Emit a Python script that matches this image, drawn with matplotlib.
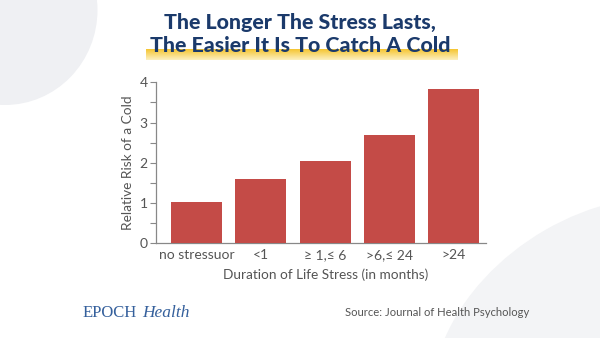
import matplotlib
matplotlib.use("Agg")
import matplotlib.pyplot as plt
import numpy as np
from matplotlib.patches import Ellipse
from matplotlib.colors import LinearSegmentedColormap

categories = ["no stressuor", "<1", "\u2265 1,\u2264 6", ">6,\u2264 24", ">24"]
values = [1.02, 1.61, 2.05, 2.68, 3.84]
yticks = [0, 1, 2, 3, 4]
title_lines = ["The Longer The Stress Lasts,", "The Easier It Is To Catch A Cold"]
xlabel = "Duration of Life Stress (in months)"
ylabel = "Relative Risk of a Cold"
source = "Source: Journal of Health Psychology"

FONT = ["Lato", "DejaVu Sans"]
GRAY = "#555555"
NAVY = "#1b3a6b"

fig = plt.figure(figsize=(6, 3.38), dpi=100)
fig.patch.set_facecolor("white")

# background shapes
bg = fig.add_axes([0, 0, 1, 1], zorder=-10)
bg.set_xlim(0, 600)
bg.set_ylim(338, 0)
bg.axis("off")
bg.add_patch(Ellipse((5, 10), 185, 190, angle=0, color="#eff0f3", lw=0))
bg.add_patch(Ellipse((620, 360), 400, 300, angle=-30, color="#f3f4f6", lw=0))

# yellow gradient highlight under title line 2
grad = np.linspace(0, 1, 50).reshape(-1, 1)
cmap = LinearSegmentedColormap.from_list("hl", ["#fdf0c0", "#f5c531"])
bg.imshow(grad, extent=(146, 458, 49, 60), cmap=cmap, aspect="auto", zorder=1)

ax = fig.add_axes([0.26, 0.28, 0.55, 0.4765])
x = np.arange(len(categories))
ax.bar(x, values, width=0.79, color="#c44b47", zorder=3)
ax.set_xlim(-0.63, 4.5)
ax.set_ylim(0, 4)
ax.set_yticks(yticks)
ax.set_yticks(np.arange(0.5, 4, 1), minor=True)
ax.set_xticks(x)
ax.set_xticklabels(categories, fontfamily=FONT, fontsize=10, color=GRAY)
for lab in ax.get_yticklabels():
    lab.set_fontfamily(FONT)
    lab.set_fontsize(10)
    lab.set_color(GRAY)
ax.tick_params(axis="y", which="both", length=4, color="#888888", width=0.8, pad=2)
ax.tick_params(axis="x", length=0, pad=4)
for s in ["top", "right"]:
    ax.spines[s].set_visible(False)
for s in ["left", "bottom"]:
    ax.spines[s].set_color("#888888")
    ax.spines[s].set_linewidth(0.9)
ax.patch.set_alpha(0)
ax.set_xlabel(xlabel, fontfamily=FONT, fontsize=9.8, color=GRAY)
ax.xaxis.set_label_coords((326 - 156) / 330, -0.155)
ax.set_ylabel(ylabel, fontfamily=FONT, fontsize=9.8, color=GRAY, labelpad=4)

# titles
TFONT = ["Lato", "DejaVu Sans"]
fig.text(0.5, 1 - 22 / 338, title_lines[0], ha="center", va="center",
         fontfamily=TFONT, fontweight="black", fontsize=15.4, color=NAVY)
fig.text(0.5, 1 - 45 / 338, title_lines[1], ha="center", va="center",
         fontfamily=TFONT, fontweight="black", fontsize=15.4, color=NAVY, zorder=5)

# footer
fig.text(83 / 600, 1 - 313 / 338, "EPOCH", ha="left", va="center",
         fontfamily="Liberation Serif", fontsize=12, color="#35609c")
fig.text(142 / 600, 1 - 313 / 338, "Health", ha="left", va="center",
         fontfamily="Liberation Serif", fontstyle="italic", fontsize=12.5, color="#35609c")
fig.text(345 / 600, 1 - 312 / 338, source, ha="left", va="center",
         fontfamily=FONT, fontsize=8.1, color=GRAY)

fig.savefig("out.png", dpi=100, facecolor="white")
